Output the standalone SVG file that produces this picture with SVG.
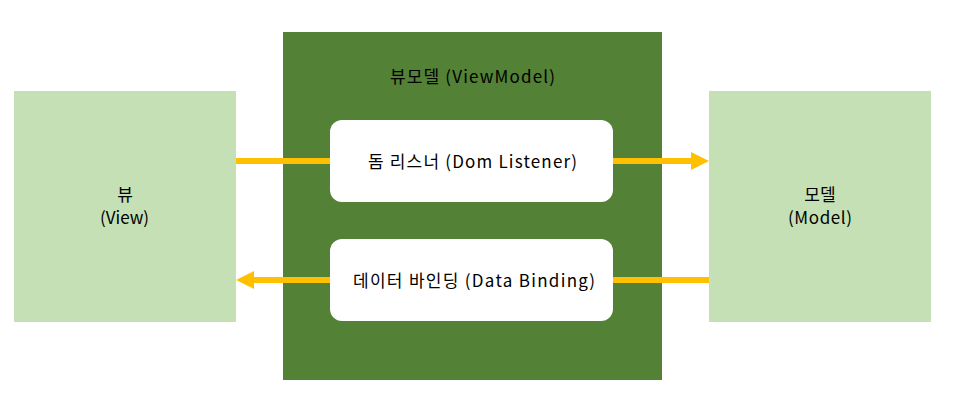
<svg xmlns="http://www.w3.org/2000/svg" width="953" height="418" viewBox="0 0 953 418">
<defs>
<style>
.side{fill:#c5e0b4}
.vm{fill:#538135}
.inner{fill:#ffffff}
.t{font-family:"Noto Sans CJK KR","Liberation Sans",sans-serif;font-size:17px;fill:#000;text-anchor:middle;dominant-baseline:central}
.c{stroke:#ffc000;stroke-width:6;fill:none}
.h{fill:#ffc000}
</style>
</defs>
<rect width="953" height="418" fill="#ffffff"/>
<g id="viewmodel">
<rect class="vm" x="283" y="32" width="379" height="348"/>
<text class="t" x="472.5" y="75" textLength="165" lengthAdjust="spacing">뷰모델 (ViewModel)</text>
</g>
<g id="view">
<rect class="side" x="14" y="91" width="222" height="231"/>
<text class="t" x="125" y="193">뷰</text>
<text class="t" x="124.5" y="216" textLength="49" lengthAdjust="spacing">(View)</text>
</g>
<g id="model">
<rect class="side" x="709" y="91" width="222" height="231"/>
<text class="t" x="820" y="193">모델</text>
<text class="t" x="820" y="216" textLength="64" lengthAdjust="spacing">(Model)</text>
</g>
<g id="connectors">
<line class="c" x1="236" y1="161" x2="693" y2="161"/>
<polygon class="h" points="691,152 709,161 691,170"/>
<line class="c" x1="709" y1="280" x2="252" y2="280"/>
<polygon class="h" points="254,271 236,280 254,289"/>
</g>
<g id="dom-listener">
<rect class="inner" x="330" y="120" width="283" height="82" rx="12"/>
<text class="t" x="472.5" y="160" textLength="209" lengthAdjust="spacing">돔 리스너 (Dom Listener)</text>
</g>
<g id="data-binding">
<rect class="inner" x="330" y="239" width="283" height="82" rx="12"/>
<text class="t" x="474" y="279" textLength="242" lengthAdjust="spacing">데이터 바인딩 (Data Binding)</text>
</g>
</svg>
